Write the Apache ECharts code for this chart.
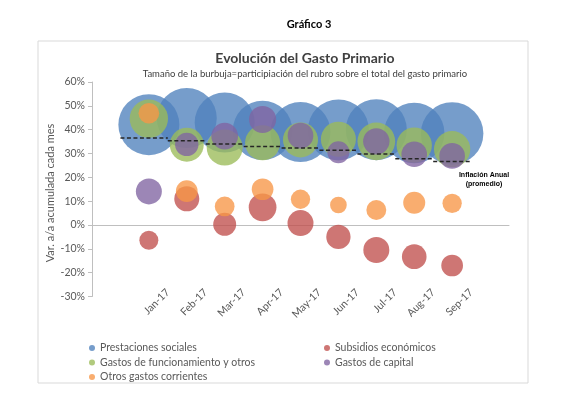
<!DOCTYPE html>
<html>
<head>
<meta charset="utf-8">
<script src="https://cdn.jsdelivr.net/npm/echarts@6/dist/echarts.min.js"></script>
<style>
  html, body { margin: 0; padding: 0; background: #fff; }
  #main { width: 575px; height: 397px; }
</style>
</head>
<body>
<div id="main"></div>
<script>
// datos (variación a/a acumulada, % y participación en el gasto primario, %)
var months = ['Jan-17', 'Feb-17', 'Mar-17', 'Apr-17', 'May-17', 'Jun-17', 'Jul-17', 'Aug-17', 'Sep-17'];
var yTicks = [-30, -20, -10, 0, 10, 20, 30, 40, 50, 60];

var prestaciones      = [42.1, 44.9, 43.0, 39.7, 39.0, 39.9, 40.0, 38.6, 38.4];
var prestacionesShare = [60, 58, 58, 57, 58, 60, 60, 59, 63];
var subsidios         = [-6.4, 11.0, 0.3, 7.4, 0.8, -5.0, -10.5, -13.3, -17.0];
var subsidiosShare    = [5.8, 10.1, 8.5, 12.4, 10.9, 9.5, 10.9, 9.8, 7.6];
var funcionamiento    = [44.6, 33.7, 32.5, 34.5, 35.7, 36.0, 35.1, 33.5, 31.8];
var funcionamientoShare = [23.7, 18.6, 20.9, 19.8, 19.8, 19.8, 22.9, 20.1, 21.2];
var capital           = [14.1, 33.8, 37.3, 44.3, 37.5, 30.5, 35.1, 29.7, 29.0];
var capitalShare      = [10.9, 8.8, 11.5, 11.8, 10.6, 7.8, 11.2, 10.6, 10.6];
var otros             = [46.9, 14.2, 7.8, 15.0, 10.8, 8.4, 6.3, 9.3, 9.1];
var otrosShare        = [6.9, 7.6, 6.3, 7.6, 6.0, 4.5, 6.4, 7.8, 6.0];
var inflacion         = [36.5, 35.3, 34.0, 32.9, 32.3, 31.4, 29.8, 27.8, 26.6];

var FONT = 'Lato';
var grey = '#595959';

var myChart = echarts.init(document.getElementById('main'));

// eje de burbujas: un hueco a cada lado
var bubbleCats = [''].concat(months, [' ']);
// eje de etiquetas: rótulos en la marca derecha de cada mes
var labelCats = ['', ' '].concat(months, ['  ']);

function pack(vals, shares) {
    return vals.map(function (v, i) { return [months[i], v, shares[i]]; });
}

function bubble(name, color, vals, shares) {
    return {
        name: name,
        type: 'scatter',
        xAxisIndex: 0,
        data: pack(vals, shares),
        symbolSize: function (d) { return 7.875 * Math.sqrt(d[2]); },
        itemStyle: { color: color, opacity: 0.78 },
        emphasis: { disabled: true }
    };
}

var option = {
    backgroundColor: '#fff',
    animation: false,
    textStyle: { fontFamily: FONT },
    title: [{
        text: 'Gráfico 3',
        left: 304, top: 14, textAlign: 'center',
        textStyle: { fontFamily: FONT, fontSize: 11, fontWeight: 'bold', color: '#000' }
    }, {
        text: 'Evolución del Gasto Primario',
        subtext: 'Tamaño de la burbuja=participiación del rubro sobre el total del gasto primario',
        left: 300, top: 46, textAlign: 'center', itemGap: 4,
        textStyle: { fontFamily: FONT, fontSize: 14, fontWeight: 'bold', color: '#404040' },
        subtextStyle: { fontFamily: FONT, fontSize: 9.5, color: '#404040' }
    }],
    legend: [{
        data: ['Prestaciones sociales', 'Gastos de funcionamiento y otros', 'Otros gastos corrientes'],
        orient: 'vertical', left: 84, top: 337, itemGap: 2.5,
        icon: 'circle', itemWidth: 6, itemHeight: 6,
        textStyle: { fontFamily: FONT, fontSize: 10.5, color: grey, lineHeight: 12 }
    }, {
        data: ['Subsidios económicos', 'Gastos de capital'],
        orient: 'vertical', left: 319, top: 337, itemGap: 2.5,
        icon: 'circle', itemWidth: 6, itemHeight: 6,
        textStyle: { fontFamily: FONT, fontSize: 10.5, color: grey, lineHeight: 12 }
    }],
    grid: { left: 92, right: 66, top: 82, bottom: 100.5 },
    xAxis: [{
        type: 'category',
        data: bubbleCats,
        position: 'top',
        boundaryGap: true,
        axisLine: { onZero: true, lineStyle: { color: '#bfbfbf' } },
        axisTick: { inside: true, length: 4, interval: 0, lineStyle: { color: '#bfbfbf' } },
        axisLabel: { show: false },
        splitLine: { show: false }
    }, {
        type: 'category',
        data: labelCats,
        position: 'bottom',
        boundaryGap: false,
        axisLine: { show: false, onZero: false },
        axisTick: { show: false },
        axisLabel: { interval: 0, rotate: 45, margin: -6, fontFamily: FONT, fontSize: 10.5, color: grey },
        splitLine: { show: false }
    }],
    yAxis: {
        type: 'value',
        min: yTicks[0], max: yTicks[yTicks.length - 1], interval: 10,
        axisLine: { show: true, lineStyle: { color: '#bfbfbf' } },
        axisTick: { show: true, length: 4, lineStyle: { color: '#bfbfbf' } },
        axisLabel: { formatter: '{value}%', fontFamily: FONT, fontSize: 10.5, color: grey, margin: 7 },
        splitLine: { show: false }
    },
    series: [
        bubble('Prestaciones sociales', '#4F81BD', prestaciones, prestacionesShare),
        bubble('Subsidios económicos', '#C0504D', subsidios, subsidiosShare),
        bubble('Gastos de funcionamiento y otros', '#9BBB59', funcionamiento, funcionamientoShare),
        bubble('Gastos de capital', '#8064A2', capital, capitalShare),
        bubble('Otros gastos corrientes', '#F79646', otros, otrosShare),
        {
            name: 'Inflación Anual (promedio)',
            type: 'custom',
            xAxisIndex: 0,
            z: 10,
            data: inflacion.map(function (v, i) { return [months[i], v]; }),
            renderItem: function (params, api) {
                var p = api.coord([api.value(0), api.value(1)]);
                var w = api.size([1, 0])[0];
                var x1 = p[0] - w / 2 - (params.dataIndex === 0 ? w * 0.25 : 0);
                return {
                    type: 'line',
                    shape: { x1: x1, y1: p[1], x2: p[0] + w / 2, y2: p[1] },
                    style: { stroke: '#262626', lineWidth: 1.5, lineDash: [4, 2.5] }
                };
            }
        }
    ],
    graphic: [{
        type: 'rect', silent: true, z: -10,
        shape: { x: 38, y: 41, width: 490, height: 342 },
        style: { fill: null, stroke: '#d9d9d9', lineWidth: 1 }
    }, {
        // título del eje Y
        type: 'text', x: 50, y: 193, rotation: Math.PI / 2, silent: true,
        style: {
            text: 'Var. a/a acumulada cada mes', align: 'center', verticalAlign: 'middle',
            font: '11px Lato', fill: grey
        }
    }, {
        type: 'text', x: 484, y: 171, silent: true,
        style: {
            text: 'Inflación Anual\n(promedio)', align: 'center', lineHeight: 9,
            font: 'bold 7px "Liberation Sans"', fill: '#000'
        }
    }]
};

myChart.setOption(option);
</script>
</body>
</html>
